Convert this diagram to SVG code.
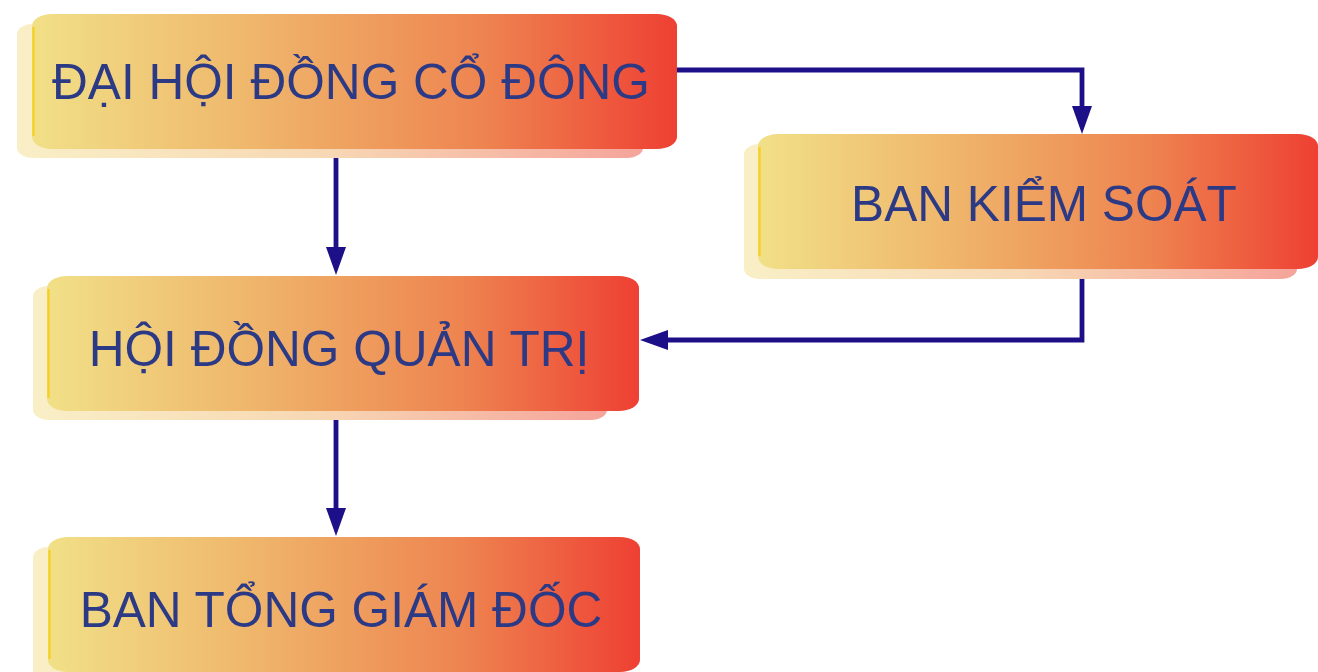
<svg xmlns="http://www.w3.org/2000/svg" width="1318" height="672" viewBox="0 0 1318 672">
<style>
.lbl{font-family:"Liberation Sans",Arial,sans-serif;font-size:49.6px;fill:#2C3A86;text-anchor:middle}
.main{fill:url(#gMain)}
.shadow{fill:url(#gShadow)}
.edge{fill:none;stroke:#F5D02A;stroke-width:2.5}
.conn{fill:none;stroke:#1C0F87;stroke-width:4.8}
</style>
<defs>
<linearGradient id="gMain" x1="0" y1="0" x2="1" y2="0">
<stop offset="0" stop-color="#F1E087"/>
<stop offset="0.35" stop-color="#EFB56B"/>
<stop offset="0.7" stop-color="#EE8450"/>
<stop offset="1" stop-color="#EE4033"/>
</linearGradient>
<linearGradient id="gShadow" x1="0" y1="0" x2="1" y2="0">
<stop offset="0" stop-color="#F9EFC6"/>
<stop offset="0.5" stop-color="#F7D7B4"/>
<stop offset="1" stop-color="#F5A49A"/>
</linearGradient>
<marker id="arr" viewBox="0 0 28 20" refX="2" refY="10" markerWidth="28" markerHeight="20" orient="auto" markerUnits="userSpaceOnUse">
<path d="M0,0 L28,10 L0,20 Z" fill="#1C0F87"/>
</marker>
</defs>
<g id="connectors">
<path class="conn" d="M677,70 H1082 V108" marker-end="url(#arr)"/>
<path class="conn" d="M336,158 V249" marker-end="url(#arr)"/>
<path class="conn" d="M1082,279 V340 H666" marker-end="url(#arr)"/>
<path class="conn" d="M336,420 V510" marker-end="url(#arr)"/>
</g>
<g id="node-dhdcd">
<rect class="shadow" x="17" y="24" width="626" height="134" rx="16" ry="10"/>
<rect class="main" x="32" y="14" width="645" height="135" rx="20" ry="12"/>
<path class="edge" d="M33.5,27 V136"/>
<text class="lbl" x="351" y="99">ĐẠI HỘI ĐỒNG CỔ ĐÔNG</text>
</g>
<g id="node-bks">
<rect class="shadow" x="744" y="144" width="553" height="135" rx="16" ry="10"/>
<rect class="main" x="758" y="134" width="560" height="135" rx="20" ry="12"/>
<path class="edge" d="M759.5,147 V256"/>
<text class="lbl" x="1044" y="221">BAN KIỂM SOÁT</text>
</g>
<g id="node-hdqt">
<rect class="shadow" x="33" y="286" width="574" height="134" rx="16" ry="10"/>
<rect class="main" x="47" y="276" width="592" height="135" rx="20" ry="12"/>
<path class="edge" d="M48.5,289 V398"/>
<text class="lbl" x="339" y="366">HỘI ĐỒNG QUẢN TRỊ</text>
</g>
<g id="node-btgd">
<rect class="shadow" x="33" y="547" width="574" height="135" rx="16" ry="10"/>
<rect class="main" x="48" y="537" width="592" height="135" rx="20" ry="12"/>
<path class="edge" d="M49.5,550 V659"/>
<text class="lbl" x="341" y="627">BAN TỔNG GIÁM ĐỐC</text>
</g>
</svg>
